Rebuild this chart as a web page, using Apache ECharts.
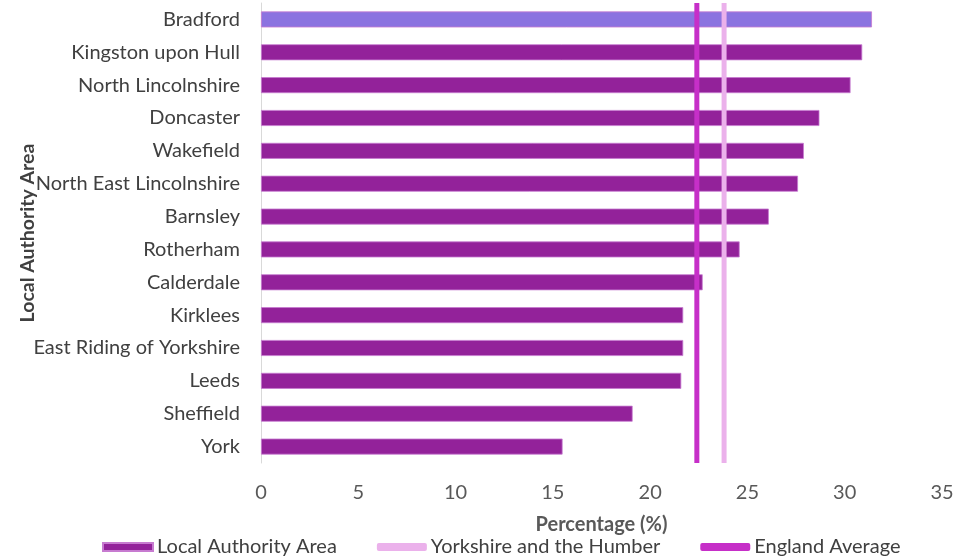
<!DOCTYPE html>
<html><head><meta charset="utf-8">
<script src="https://cdn.jsdelivr.net/npm/echarts@6/dist/echarts.min.js"></script>
<style>html,body{margin:0;padding:0;background:#fff}#c{width:979px;height:557px}</style>
</head><body><div id="c"></div>
<script>
const categories = ['Bradford','Kingston upon Hull','North Lincolnshire','Doncaster','Wakefield','North East Lincolnshire','Barnsley','Rotherham','Calderdale','Kirklees','East Riding of Yorkshire','Leeds','Sheffield','York'];
const values = [31.4, 30.9, 30.3, 28.7, 27.9, 27.6, 26.1, 24.6, 22.7, 21.7, 21.7, 21.6, 19.1, 15.5];
const englandAverage = 22.4;
const yorkshireHumber = 23.8;
const xTicks = [0, 5, 10, 15, 20, 25, 30, 35];

const font = 'Lato, "Open Sans", sans-serif';
const chart = echarts.init(document.getElementById('c'));
chart.setOption({
  animation: false,
  grid: {left: 261, right: 37, top: 3, bottom: 94, containLabel: false, outerBoundsMode: 'none'},
  legend: {
    top: 532, left: 97, itemGap: 40, itemWidth: 50, itemHeight: 8,
    textStyle: {fontFamily: font, fontSize: 20, color: '#404040', padding: [0, 0, 0, -1]},
    data: [
      {name: 'Local Authority Area', icon: 'rect', itemStyle: {color: '#93229A'}},
      {name: 'Yorkshire and the Humber', icon: 'roundRect', itemStyle: {color: '#EBB1EB'}},
      {name: 'England Average', icon: 'roundRect', itemStyle: {color: '#C62FC8'}}
    ]
  },
  xAxis: {
    type: 'value', min: xTicks[0], max: xTicks[xTicks.length-1], interval: 5,
    name: 'Percentage (%)', nameLocation: 'middle', nameGap: 52, nameMoveOverlap: false,
    nameTextStyle: {fontFamily: font, fontSize: 20, fontWeight: 'bold', color: '#595959'},
    axisLine: {show: false}, axisTick: {show: false}, splitLine: {show: false},
    axisLabel: {fontFamily: font, fontSize: 20, color: '#595959', margin: 20}
  },
  yAxis: [{
    type: 'category', data: categories, inverse: true,
    name: 'Local Authority Area', nameLocation: 'middle', nameGap: 223, nameMoveOverlap: false,
    nameTextStyle: {fontFamily: font, fontSize: 19.5, fontWeight: 'bold', color: '#404040'},
    axisLine: {show: true, lineStyle: {color: '#d9d9d9', width: 1}},
    axisTick: {show: false},
    axisLabel: {fontFamily: font, fontSize: 20, color: '#404040', margin: 21}
  }, {
    type: 'value', min: 0, max: 1, show: false
  }],
  series: [{
    name: 'Local Authority Area', type: 'bar', barWidth: 16,
    data: values.map((v, i) => ({value: v, itemStyle: i === 0 ? {color: '#8B73E0'} : {}})),
    itemStyle: {color: '#93229A', borderColor: '#C77BD0', borderWidth: 0.8},
    z: 2
  }, {
    name: 'Yorkshire and the Humber', type: 'line', yAxisIndex: 1, symbol: 'none',
    data: [[yorkshireHumber, 0], [yorkshireHumber, 1]],
    lineStyle: {color: '#EBB1EB', width: 5},
    itemStyle: {color: '#EBB1EB'}, z: 3
  }, {
    name: 'England Average', type: 'line', yAxisIndex: 1, symbol: 'none',
    data: [[englandAverage, 0], [englandAverage, 1]],
    lineStyle: {color: '#C62FC8', width: 5},
    itemStyle: {color: '#C62FC8'}, z: 4
  }]
});
</script></body></html>
